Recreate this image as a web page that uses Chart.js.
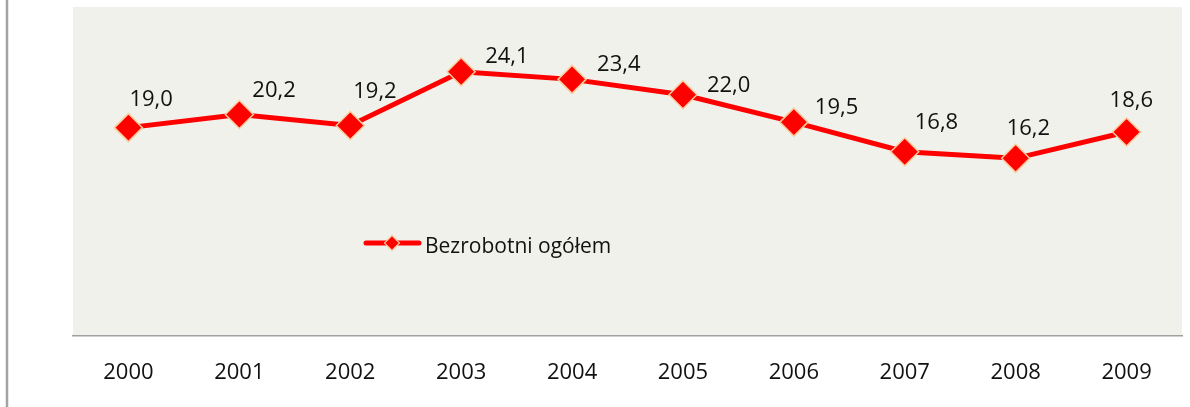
<!DOCTYPE html>
<html>
<head>
<meta charset="utf-8">
<script src="https://cdn.jsdelivr.net/npm/chart.js@4"></script>
<style>
  html, body { margin: 0; padding: 0; background: #fff; overflow: hidden; }
  #wrap { width: 1190px; height: 407px; position: relative; }
</style>
</head>
<body>
<div id="wrap"><canvas id="chart" width="1190" height="407"></canvas></div>
<script>
// Data
const years = ['2000', '2001', '2002', '2003', '2004', '2005', '2006', '2007', '2008', '2009'];
const unemployed = [19.0, 20.2, 19.2, 24.1, 23.4, 22.0, 19.5, 16.8, 16.2, 18.6];
const seriesName = 'Bezrobotni ogółem';

// label nudges relative to each point (px), hand placed like in the original
const labelNudge = [[1, -22], [13, -17], [3, -27], [24, -9], [25, -8],
                    [24, -3], [21, -8], [10, -23], [-9, -23], [-17, -25]];

const FONT = '"Open Sans", "Noto Sans", sans-serif';

// plot background, left frame line and legend
const decor = {
    id: 'decor',
    beforeDraw(chart) {
        const { ctx, chartArea: a } = chart;
        ctx.save();
        ctx.fillStyle = '#eff1ea';
        ctx.fillRect(a.left, a.top, a.right - a.left, a.bottom - a.top);
        ctx.strokeStyle = '#a3a3a3';
        ctx.lineWidth = 2.5;
        ctx.beginPath();
        ctx.moveTo(7, 0);
        ctx.lineTo(7, chart.height);
        ctx.stroke();
        ctx.restore();
    },
    afterDraw(chart) {
        const ctx = chart.ctx;
        // legend inside plot area
        const lx = 366, ly = 243;
        ctx.save();
        ctx.strokeStyle = '#ff0000';
        ctx.lineWidth = 5;
        ctx.lineCap = 'round';
        ctx.beginPath();
        ctx.moveTo(lx, ly);
        ctx.lineTo(lx + 53, ly);
        ctx.stroke();
        ctx.fillStyle = '#ff0000';
        ctx.strokeStyle = '#fcc99a';
        ctx.lineWidth = 1.2;
        ctx.beginPath();
        ctx.moveTo(lx + 26, ly - 7.5);
        ctx.lineTo(lx + 33.5, ly);
        ctx.lineTo(lx + 26, ly + 7.5);
        ctx.lineTo(lx + 18.5, ly);
        ctx.closePath();
        ctx.fill();
        ctx.stroke();
        ctx.fillStyle = '#111';
        ctx.font = '21px ' + FONT;
        ctx.textBaseline = 'alphabetic';
        ctx.fillText(seriesName, lx + 59, ly + 10);
        ctx.restore();
    }
};

// value labels next to each point
const valueLabels = {
    id: 'valueLabels',
    afterDatasetsDraw(chart) {
        const ctx = chart.ctx;
        const meta = chart.getDatasetMeta(0);
        ctx.save();
        ctx.fillStyle = '#111';
        ctx.font = '22px ' + FONT;
        ctx.textAlign = 'left';
        ctx.textBaseline = 'alphabetic';
        meta.data.forEach((pt, i) => {
            const txt = unemployed[i].toFixed(1).replace('.', ',');
            const [dx, dy] = labelNudge[i];
            ctx.fillText(txt, pt.x + dx, pt.y + dy);
        });
        ctx.restore();
    }
};

new Chart(document.getElementById('chart'), {
    type: 'line',
    data: {
        labels: years,
        datasets: [{
            label: seriesName,
            data: unemployed,
            borderColor: '#ff0000',
            borderWidth: 5,
            pointStyle: 'rectRot',
            pointRadius: 14,
            pointBackgroundColor: '#ff0000',
            pointBorderColor: '#fcc99a',
            pointBorderWidth: 1.5,
            tension: 0
        }]
    },
    options: {
        responsive: false,
        animation: false,
        layout: { autoPadding: false, padding: { left: 73, right: 8, top: 7, bottom: 0 } },
        plugins: {
            legend: { display: false },
            tooltip: { enabled: false }
        },
        scales: {
            x: {
                offset: true,
                grid: { display: false, drawTicks: false },
                border: { display: true, color: '#a0a0a0', width: 1.5 },
                ticks: { color: '#111', font: { family: FONT, size: 22 }, padding: 24 },
                afterFit: (s) => { s.height = 71; }
            },
            y: {
                display: false,
                min: 0,
                max: 30
            }
        }
    },
    plugins: [decor, valueLabels]
});
</script>
</body>
</html>
